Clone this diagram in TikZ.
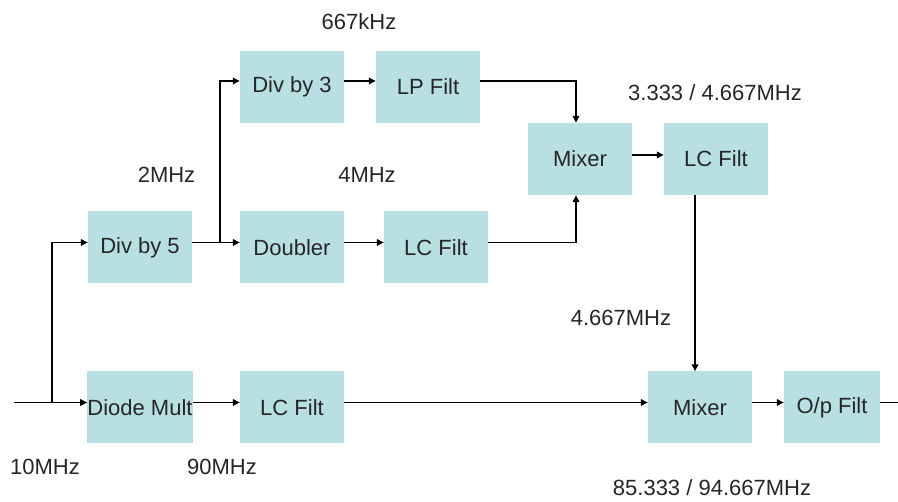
\documentclass[tikz,border=0pt]{standalone}
\usepackage{fontspec}
\setmainfont{Liberation Sans}
\usetikzlibrary{arrows.meta,calc}
\definecolor{boxcyan}{RGB}{184,223,226}
\colorlet{txtgray}{black!85}

\begin{document}
\begin{tikzpicture}[x=1pt, y=-1pt,
        every node/.style={font=\fontsize{22}{26}\selectfont, text=txtgray},
        blk/.style={fill=boxcyan, minimum width=104pt, minimum height=72pt, inner sep=0pt, align=center},
        sig/.style={line width=1.6pt, -{Triangle[length=7pt, width=6.5pt]}}]
                \useasboundingbox (0,0) rectangle (898,502);
                % blocks
                \node[blk] (div3) at (292,87) {Div by 3};
                \node[blk] (lpf) at (428,87) {LP Filt};
                \node[blk] (mixA) at (580,159) {Mixer};
                \node[blk] (lcfA) at (716,159) {LC Filt};
                \node[blk] (div5) at (140,247.5) {Div by 5};
                \node[blk] (dbl) at (292,247.5) {Doubler};
                \node[blk] (lcfB) at (436,247.5) {LC Filt};
                \node[blk] (diode) at (140,407.5) {Diode Mult};
                \node[blk] (lcfC) at (292,407.5) {LC Filt};
                \node[blk] (mixB) at (700,407.5) {Mixer};
                \node[blk, minimum width=96pt] (opf) at (832,407.5) {O/p Filt};
                % frequencies
                \node (f667) at (359,22) {667kHz};
                \node (f2) at (166.5,175) {2MHz};
                \node (f4) at (367,175) {4MHz};
                \node (fmix) at (715,93) {3.333 / 4.667MHz};
                \node (f4667) at (621,318) {4.667MHz};
                \node (f10) at (45,467) {10MHz};
                \node (f90) at (222,467) {90MHz};
                \node (fout) at (712,488) {85.333 / 94.667MHz};
                % signal paths
                \coordinate (in) at (14,402.5);
                \coordinate (sp) at (52,402.5);
                \coordinate (br) at (220,242.5);
                \coordinate (out) at (898,402.5);
                \draw[sig] (in) -- ([yshift=5pt]diode.west);
                \draw[sig] (sp) |- ([yshift=5pt]div5.west);
                \draw[sig] ([yshift=5pt]div5.east) -- ([yshift=5pt]dbl.west);
                \draw[sig] (br) |- ([yshift=6pt]div3.west);
                \draw[sig] ([yshift=6pt]div3.east) -- ([yshift=6pt]lpf.west);
                \draw[sig] ([yshift=6pt]lpf.east) -| ([xshift=-4pt]mixA.north);
                \draw[sig] ([yshift=5pt]dbl.east) -- ([yshift=5pt]lcfB.west);
                \draw[sig] ([yshift=5pt]lcfB.east) -| ([xshift=-4pt]mixA.south);
                \draw[sig] ([yshift=4pt]mixA.east) -- ([yshift=4pt]lcfA.west);
                \draw[sig] ([xshift=-21pt]lcfA.south) -- ([xshift=-5pt]mixB.north);
                \draw[sig] ([yshift=5pt]diode.east) -- ([yshift=5pt]lcfC.west);
                \draw[sig] ([yshift=5pt]lcfC.east) -- ([yshift=5pt]mixB.west);
                \draw[sig] ([yshift=5pt]mixB.east) -- ([yshift=5pt]opf.west);
                \draw[line width=1.6pt] ([yshift=5pt]opf.east) -- (out);
            \end{tikzpicture}
\end{document}
